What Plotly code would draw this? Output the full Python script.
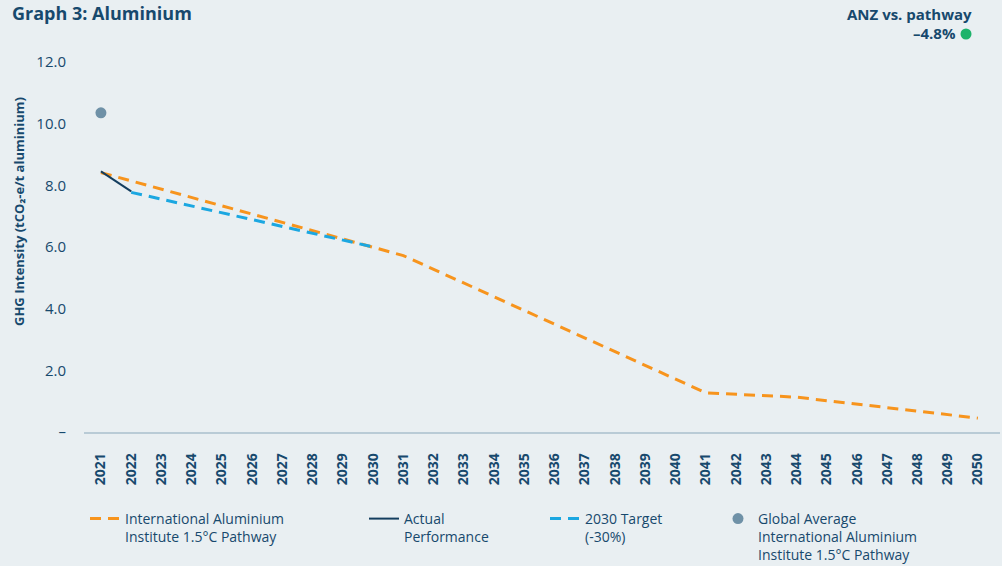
import plotly.graph_objects as go

# ---- data ----
years = list(range(2021, 2051))
tick_labels = [str(y) for y in years]

pathway_years = [2021, 2030, 2031, 2041, 2044, 2050]
pathway_values = [8.41, 6.0, 5.72, 1.27, 1.13, 0.45]

actual_years = [2021, 2022]
actual_values = [8.45, 7.80]

target_years = [2022, 2030]
target_values = [7.77, 6.0]

global_avg_years = [2021]
global_avg_values = [10.35]

y_ticks = [0, 2, 4, 6, 8, 10, 12]
y_tick_labels = ["–", "2.0", "4.0", "6.0", "8.0", "10.0", "12.0"]

# ---- style ----
NAVY = "#17496d"
BG = "#e9eff2"
ORANGE = "#f7941d"
DARK = "#143e5f"
BLUE = "#1ba7e1"
GREY = "#6f91a7"
GREEN = "#1db36b"
FONT = "Open Sans"

fig = go.Figure()

fig.add_trace(go.Scatter(
    x=pathway_years, y=pathway_values, mode="lines",
    name="International Aluminium<br>Institute 1.5°C Pathway",
    line=dict(color=ORANGE, width=3, dash="11px,7px"),
    legend="legend",
))
fig.add_trace(go.Scatter(
    x=target_years, y=target_values, mode="lines",
    name="2030 Target<br>(-30%)",
    line=dict(color=BLUE, width=3, dash="11px,7px"),
    legend="legend3",
))
fig.add_trace(go.Scatter(
    x=actual_years, y=actual_values, mode="lines",
    name="Actual<br>Performance",
    line=dict(color=DARK, width=2),
    legend="legend2",
))
fig.add_trace(go.Scatter(
    x=global_avg_years, y=global_avg_values, mode="markers",
    name="Global Average<br>International Aluminium<br>Institute 1.5°C Pathway",
    marker=dict(color=GREY, size=11),
    legend="legend4",
))

L, R, T, B = 84, 2, 44, 134
W, H = 1002, 566
pw = W - L - R
ph = H - T - B

def px_to_paper_x(px):
    return (px - L) / pw

def px_to_paper_y(py):
    return (H - B - py) / ph

legend_common = dict(
    bgcolor="rgba(0,0,0,0)",
    font=dict(family=FONT, size=14, color=NAVY),
    yanchor="top", xanchor="left", valign="top",
    y=px_to_paper_y(503),
)

fig.update_layout(
    width=W, height=H,
    paper_bgcolor=BG, plot_bgcolor=BG,
    margin=dict(l=L, r=R, t=T, b=B, autoexpand=False),
    font=dict(family=FONT, color=NAVY),
    showlegend=True,
    legend=dict(x=px_to_paper_x(85), **legend_common),
    legend2=dict(x=px_to_paper_x(364), **legend_common),
    legend3=dict(x=px_to_paper_x(545), **legend_common),
    legend4=dict(x=px_to_paper_x(718), **legend_common),
    xaxis=dict(
        range=[2020.44, 2050.73],
        tickmode="array", tickvals=years,
        ticktext=["<b>" + t + "</b>" for t in tick_labels],
        tickangle=-90,
        tickfont=dict(family=FONT, size=14, color=NAVY),
        showgrid=False, zeroline=False,
        showline=True, linecolor="#b9cbd6", linewidth=1.5,
        ticks="", ticklabelstandoff=14, automargin=False,
    ),
    yaxis=dict(
        range=[0, 12.58],
        tickmode="array", tickvals=y_ticks, ticktext=y_tick_labels,
        tickfont=dict(family=FONT, size=15, color=NAVY),
        showgrid=False, zeroline=False, showline=False,
        ticks="", ticklabelstandoff=17, automargin=False,
    ),
    shapes=[
        dict(type="circle", xref="paper", yref="paper",
             x0=px_to_paper_x(960.5), x1=px_to_paper_x(971.5),
             y0=px_to_paper_y(39.5), y1=px_to_paper_y(28.5),
             fillcolor=GREEN, line=dict(width=0)),
    ],
    annotations=[
        dict(text="<b>Graph 3: Aluminium</b>", xref="paper", yref="paper",
             x=px_to_paper_x(10), y=px_to_paper_y(13), xanchor="left", yanchor="middle",
             showarrow=False, font=dict(family=FONT, size=18, color=NAVY)),
        dict(text="<b>ANZ vs. pathway</b>",
             xref="paper", yref="paper",
             x=px_to_paper_x(974), y=px_to_paper_y(14), xanchor="right", yanchor="middle",
             showarrow=False, font=dict(family=FONT, size=15, color=NAVY)),
        dict(text="<b>–4.8%</b>",
             xref="paper", yref="paper",
             x=px_to_paper_x(958), y=px_to_paper_y(33), xanchor="right", yanchor="middle",
             showarrow=False, font=dict(family=FONT, size=15, color=NAVY)),
        dict(text="<b>GHG Intensity (tCO₂-e/t aluminium)</b>", xref="paper", yref="paper",
             x=px_to_paper_x(19), y=px_to_paper_y(212), xanchor="center", yanchor="middle",
             textangle=-90, showarrow=False,
             font=dict(family=FONT, size=13, color=NAVY)),
    ],
)

fig.write_html(
    "out.html",
    config={"displayModeBar": False},
    post_script="document.body.style.margin='0';document.body.style.background='" + BG + "';",
)
